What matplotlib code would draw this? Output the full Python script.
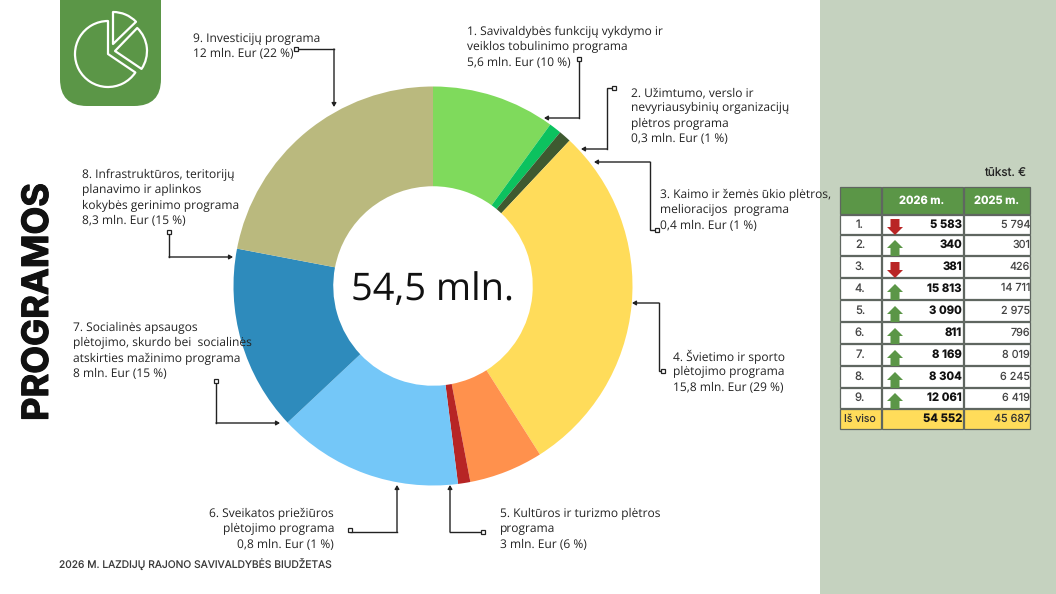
from matplotlib import pyplot as plt
from matplotlib import patheffects
from matplotlib.patches import FancyBboxPatch, Polygon, Rectangle, Wedge

plt.rcParams['text.hinting'] = 'none'
plt.rcParams['text.hinting_factor'] = 1

# table data
ranks = ["1.", "2.", "3.", "4.", "5.", "6.", "7.", "8.", "9."]
values_2026 = [5583, 340, 381, 15813, 3090, 811, 8169, 8304, 12061]
values_2025 = [5794, 301, 426, 14711, 2975, 796, 8019, 6245, 6419]
total_2026 = 54552
total_2025 = 45687

# the donut follows the rounded shares from the labels, not the table values
shares = [10, 1, 1, 29, 6, 1, 15, 15, 22]
slice_colors = ["#7fda5c", "#0cc25f", "#3e5a30", "#ffdc5a", "#ff914d",
                "#b72525", "#74c7f8", "#2e8bbc", "#bab97e"]

label_texts = [
    ["1. Savivaldybės funkcijų vykdymo ir", "veiklos tobulinimo programa", "5,6 mln. Eur (10 %)"],
    ["2. Užimtumo, verslo ir", "nevyriausybinių organizacijų", "plėtros programa", "0,3 mln. Eur (1 %)"],
    ["3. Kaimo ir žemės ūkio plėtros,", "melioracijos  programa", "0,4 mln. Eur (1 %)"],
    ["4. Švietimo ir sporto", "plėtojimo programa", "15,8 mln. Eur (29 %)"],
    ["5. Kultūros ir turizmo plėtros", "programa", "3 mln. Eur (6 %)"],
    ["6. Sveikatos priežiūros", "plėtojimo programa", "0,8 mln. Eur (1 %)"],
    ["7. Socialinės apsaugos", "plėtojimo, skurdo bei  socialinės", "atskirties mažinimo programa", "8 mln. Eur (15 %)"],
    ["8. Infrastruktūros, teritorijų", "planavimo ir aplinkos", "kokybės gerinimo programa", "8,3 mln. Eur (15 %)"],
    ["9. Investicijų programa", "12 mln. Eur (22 %)"],
]
# x, y of first line, alignment
label_pos = [(467, 32, "left"), (631, 93, "left"), (660, 195, "left"),
             (673, 357, "left"), (500, 514, "left"), (334, 514, "right"),
             (73, 328, "left"), (82, 175, "left"), (193, 39, "left")]

# connector lines: starts at the small square, ends at the arrow
connectors = [
    [(579, 59), (579, 118), (544, 118)],
    [(614, 88), (607, 88), (607, 149), (581, 149)],
    [(657, 230), (650, 230), (650, 162), (594, 162)],
    [(663, 371), (659, 371), (659, 303), (632, 303)],
    [(483, 532), (450, 532), (450, 485)],
    [(350, 530), (350, 532), (397, 532), (397, 485)],
    [(216, 381), (216, 423), (280, 423)],
    [(169, 232), (169, 257), (233, 257)],
    [(296, 49), (334, 49), (334, 107)],
]

TEXT_FONT = "Open Sans"
TABLE_FONT = "Inter"
DARK = "#222222"
GREEN = "#5b9647"
RED = "#b92525"
YELLOW = "#ffdc5a"
BORDER = "#5f6660"

fig = plt.figure(figsize=(10.56, 5.94), dpi=100, facecolor="white")

# donut in its own axes, 1 unit = 199.5 px
cx, cy, r = 433, 286, 199.5
ax_pie = fig.add_axes([(cx - r) / 1056, 1 - (cy + r) / 594, 2 * r / 1056, 2 * r / 594])
ax_pie.pie(shares, colors=slice_colors, startangle=90, counterclock=False,
           radius=1, wedgeprops={"width": 0.5, "linewidth": 0})
ax_pie.set_xlim(-1, 1)
ax_pie.set_ylim(-1, 1)

# everything else in pixel coordinates of the reference
ax = fig.add_axes([0, 0, 1, 1], facecolor="none")
ax.set_xlim(0, 1056)
ax.set_ylim(594, 0)
ax.axis("off")

ax.add_patch(Rectangle((820, 0), 236, 594, fc="#c5d2bf", ec="none"))

# icon tab
ax.add_patch(FancyBboxPatch((60, -40), 101, 146, boxstyle="round,pad=0,rounding_size=27",
                            fc=GREEN, ec="none"))
icon = dict(fc="none", ec="white", lw=1.6, joinstyle="round")
ax.add_patch(Wedge((108, 54), 33, 34, 270, **icon))
ax.add_patch(Wedge((113, 44), 32, 270, 316, **icon))
ax.add_patch(Wedge((115, 51), 32, -46, 34, **icon))

# title and footer
ax.text(38.5, 302, "PROGRAMOS", rotation=90, ha="center", va="center", fontsize=26,
        fontweight="bold", family=TABLE_FONT, color="#111111",
        path_effects=[patheffects.withStroke(linewidth=0.8, foreground="#111111")])
ax.text(59, 565, "2026 M. LAZDIJŲ RAJONO SAVIVALDYBĖS BIUDŽETAS", ha="left", va="center",
        fontsize=7.4, family=TABLE_FONT, color="#3a3a3a")
ax.text(432, 290, "54,5 mln.", ha="center", va="center", fontsize=27.4,
        family=TEXT_FONT, color="#111111")

# labels
for lines, (x, y, align) in zip(label_texts, label_pos):
    for i, line in enumerate(lines):
        ax.text(x, y + i * 15.4, line, ha=align, va="center", fontsize=8.4,
                family=TEXT_FONT, color=DARK)

# connectors
for pts in connectors:
    xs = [p[0] for p in pts]
    ys = [p[1] for p in pts]
    ax.plot(xs[:-1], ys[:-1], color="#222222", lw=1.0, solid_joinstyle="miter")
    ax.annotate("", xy=pts[-1], xytext=pts[-2],
                arrowprops=dict(arrowstyle="-|>,head_width=0.13,head_length=0.22",
                                color="#222222", lw=1.0, shrinkA=0, shrinkB=0))
    ax.plot(xs[0], ys[0], "s", ms=3, mfc="white", mec="#222222", mew=0.9)

# table
col_x = [840, 882, 964, 1031]
row_y = [187, 215, 235, 256, 278, 300, 322, 344, 366, 388, 409, 430]


def cell(col, row, color):
    ax.add_patch(Rectangle((col_x[col], row_y[row]), col_x[col + 1] - col_x[col] - 1,
                           row_y[row + 1] - row_y[row] - 1, fc=color, ec=BORDER, lw=0.9))


def cell_text(x, row, txt, ha="center", **kw):
    y = (row_y[row] + row_y[row + 1]) / 2 - 0.5
    ax.text(x, y, txt, ha=ha, va="center", fontsize=kw.pop("fontsize", 8.2),
            family=TABLE_FONT, **kw)


def arrow(row, up):
    x = 895
    bottom = row_y[row + 1]
    top = bottom - 16
    if up:
        pts = [(x, top), (x + 8, top + 8), (x + 4.5, top + 8), (x + 4.5, bottom),
               (x - 4.5, bottom), (x - 4.5, top + 8), (x - 8, top + 8)]
        color = GREEN
    else:
        pts = [(x, bottom), (x + 8, bottom - 8), (x + 4.5, bottom - 8), (x + 4.5, top),
               (x - 4.5, top), (x - 4.5, bottom - 8), (x - 8, bottom - 8)]
        color = RED
    ax.add_patch(Polygon(pts, closed=True, fc=color, ec="none", zorder=3))


ax.text(1026, 174, "tūkst. €", ha="right", va="center", fontsize=8.5,
        family=TABLE_FONT, color=DARK)

for col in range(3):
    cell(col, 0, GREEN)
cell_text(922, 0, "2026 m.", color="white", fontweight="bold", fontsize=8)
cell_text(997, 0, "2025 m.", color="white", fontweight="bold", fontsize=8)

for i, rank in enumerate(ranks):
    row = i + 1
    for col in range(3):
        cell(col, row, "white")
    cell_text(860, row, rank, color="#444444")
    cell_text(962, row, f"{values_2026[i]:,}".replace(",", " "), ha="right",
              color="#111111", fontweight="bold")
    cell_text(1030, row, f"{values_2025[i]:,}".replace(",", " "), ha="right",
              color="#444444", fontsize=7.8)
    arrow(row, values_2026[i] > values_2025[i])

for col in range(3):
    cell(col, 10, YELLOW)
cell_text(860, 10, "Iš viso", color="#333333", fontsize=7.6)
cell_text(962, 10, f"{total_2026:,}".replace(",", " "), ha="right", color="#111111", fontweight="bold")
cell_text(1030, 10, f"{total_2025:,}".replace(",", " "), ha="right", color="#333333", fontsize=7.8)

fig.savefig("out.png", dpi=100)
